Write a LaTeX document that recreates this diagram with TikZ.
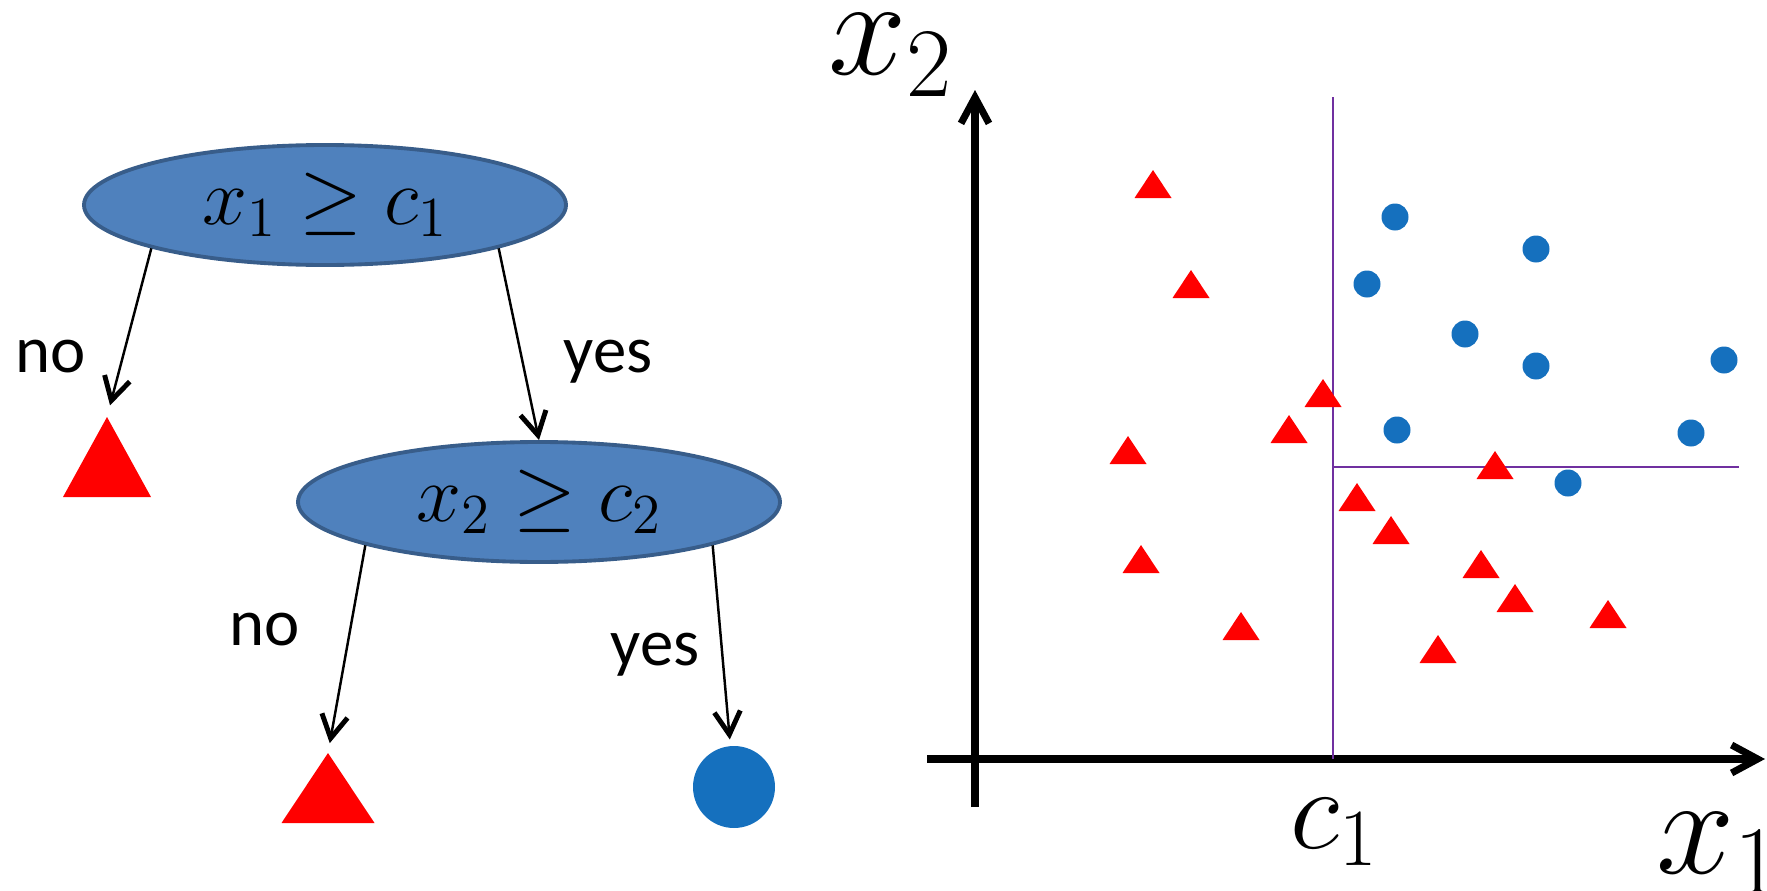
\RequirePackage{fix-cm}
\documentclass[tikz,border=0pt]{standalone}
\usepackage{fontspec}
\newfontfamily\lblfont{Carlito}
\usetikzlibrary{shapes.geometric,arrows.meta}
\definecolor{ellfill}{RGB}{79,129,189}
\definecolor{elldraw}{RGB}{56,93,138}
\definecolor{dotblue}{RGB}{21,112,190}
\definecolor{splitpurple}{RGB}{112,48,160}
\begin{document}
\begin{tikzpicture}[x=0.1mm,y=-0.1mm,
  testnode/.style={ellipse, fill=ellfill, draw=elldraw, line width=1.1pt, inner sep=0,
    minimum width=48.2mm, minimum height=12mm, font=\fontsize{23}{27}\selectfont},
  redtri/.style={inner sep=0, outer sep=0,
    path picture={\fill[red] (path picture bounding box.south west) -- (path picture bounding box.south east) -- (path picture bounding box.north) -- cycle;}},
  bigtri/.style={redtri, minimum width=8.8mm, minimum height=8mm},
  smalltri/.style={redtri, minimum width=3.7mm, minimum height=2.8mm},
  dot/.style={circle, fill=dotblue, inner sep=0, minimum size=2.7mm},
  bigdot/.style={circle, fill=dotblue, inner sep=0, minimum size=8.2mm},
  lbl/.style={font=\lblfont\fontsize{19}{23}\selectfont, anchor=base west, inner sep=0},
  arr/.style={line width=0.7pt, -{Straight Barb[length=2.3mm,width=2.6mm,line width=1.4pt]}},
  axis/.style={line width=2pt, -{Straight Barb[length=2.6mm,width=2.8mm]}},
  split/.style={draw=splitpurple, line width=0.6pt},
  axlbl/.style={anchor=base west, inner sep=0}
]
\useasboundingbox (0,0) rectangle (1767,891);

% ---- tree ----
\node[testnode] (e1) at (325,205) {$x_1 \geq c_1$};
\node[testnode] (e2) at (539,502) {$x_2 \geq c_2$};
\node[bigtri] (t1) at (107,457) {};
\node[redtri, minimum width=9.3mm, minimum height=7mm] (t2) at (328,788) {};
\node[bigdot] (d1) at (734,787) {};

\draw[arr, shorten >=1.2mm] (e1.194) -- (t1.north);
\draw[arr] (e1.346) -- (e2.north);
\draw[arr, shorten >=1mm] (e2.194) -- (t2.north);
\draw[arr, shorten >=0.6mm] (e2.346) -- (d1);

\node[lbl] (no1) at (15,372) {no};
\node[lbl] (yes1) at (563,372) {yes};
\node[lbl] (no2) at (229,645) {no};
\node[lbl] (yes2) at (610,665) {yes};

% ---- plot ----
\coordinate (xs) at (927,759);
\coordinate (xe) at (1765,759);
\coordinate (ys) at (975,807);
\coordinate (ye) at (975,90);
\draw[axis] (xs) -- (xe);
\draw[axis] (ys) -- (ye);

\coordinate (vb) at (1333,759);
\coordinate (vt) at (1333,97);
\coordinate (hl) at (1333,467);
\coordinate (hr) at (1739,467);
\draw[split] (vb) -- (vt);
\draw[split] (hl) -- (hr);

\node[axlbl, font=\fontsize{40}{46}\selectfont] (lx2) at (828,75) {$x_2$};
\node[axlbl, font=\fontsize{40}{46}\selectfont] (lx1) at (1656,873) {$x_1$};
\node[axlbl, font=\fontsize{33}{38}\selectfont] (lc1) at (1290,848) {$c_1$};

% triangles
\foreach \px/\py [count=\i] in {1153/184,1191/284,1323/393,1289/429,1128/450,1495/465,1357/497,1391/530,1141/559,1481/564,1515/598,1241/626,1608/614,1438/649}
  \node[smalltri] (tri\i) at (\px,\py) {};
% circles
\foreach \px/\py [count=\i] in {1395/217,1536/249,1367/284,1465/334,1536/366,1724/360,1397/430,1691/433,1568/483}
  \node[dot] (c\i) at (\px,\py) {};
\end{tikzpicture}
\end{document}
